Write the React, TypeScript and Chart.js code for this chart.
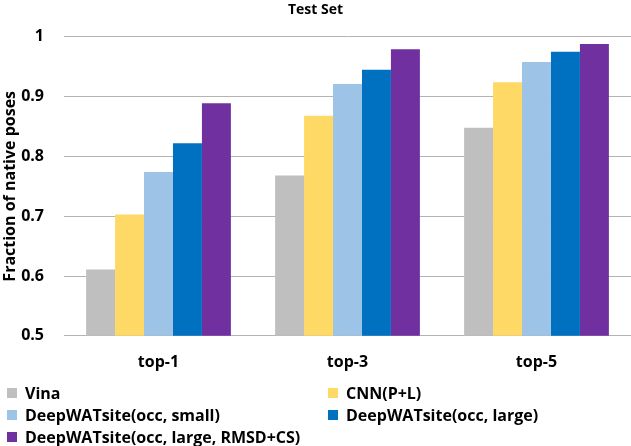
import React, { useEffect, useRef } from "react";
import { Chart, registerables } from "chart.js";

Chart.register(...registerables);

const chartTitle = "Test Set";
const yAxisTitle = "Fraction of native poses";
const categories = ["top-1", "top-3", "top-5"];
const seriesNames = [
  "Vina",
  "CNN(P+L)",
  "DeepWATsite(occ, small)",
  "DeepWATsite(occ, large)",
  "DeepWATsite(occ, large, RMSD+CS)",
];
const vina = [0.611, 0.768, 0.848];
const cnnPL = [0.703, 0.868, 0.924];
const deepSmall = [0.774, 0.921, 0.958];
const deepLarge = [0.822, 0.945, 0.975];
const deepRmsdCs = [0.889, 0.979, 0.988];
const seriesValues = [vina, cnnPL, deepSmall, deepLarge, deepRmsdCs];
const seriesColors = ["#BFBFBF", "#FFD966", "#9DC3E6", "#0070C0", "#7030A0"];
const yMin = 0.5;
const yMax = 1;
const yStep = 0.1;

const FONT = "'Open Sans', Lato, sans-serif";

export default function App() {
  const canvasRef = useRef<HTMLCanvasElement>(null);

  useEffect(() => {
    document.body.style.margin = "0";
    const canvas = canvasRef.current;
    if (!canvas) return;
    const chart = new Chart(canvas, {
      type: "bar",
      data: {
        labels: categories,
        datasets: seriesNames.map((name, i) => ({
          label: name,
          data: seriesValues[i],
          backgroundColor: seriesColors[i],
          borderWidth: 0,
          barPercentage: 1,
          categoryPercentage: 0.766,
        })),
      },
      options: {
        responsive: false,
        animation: false,
        devicePixelRatio: 1,
        layout: { padding: { left: 0, right: 0, top: 0, bottom: 57 } },
        plugins: {
          legend: { display: false },
          tooltip: { enabled: false },
          title: {
            display: true,
            text: chartTitle,
            color: "#000",
            font: { family: FONT, size: 14, weight: "bold" },
            padding: { top: 2, bottom: 18 },
          },
        },
        scales: {
          x: {
            grid: { display: false, drawTicks: false },
            border: { display: false },
            ticks: {
              color: "#000",
              font: { family: FONT, size: 16, weight: "bold" },
              padding: 17,
              maxRotation: 0,
            },
          },
          y: {
            min: yMin,
            max: yMax,
            grid: { color: "#B4B4B4", lineWidth: 1, drawTicks: false },
            border: { display: false },
            afterFit: (axis: any) => {
              axis.width = 64;
            },
            ticks: {
              stepSize: yStep,
              color: "#000",
              font: { family: FONT, size: 16, weight: "bold" },
              padding: 20,
              callback: (v: any) => String(Number(Number(v).toFixed(1))),
            },
            title: {
              display: true,
              text: yAxisTitle,
              color: "#000",
              font: { family: FONT, size: 16, weight: "bold" },
              padding: { top: 1, bottom: 1 },
            },
          },
        },
      },
    });
    return () => chart.destroy();
  }, []);

  return (
    <div style={{ position: "relative", width: 631, height: 446, fontFamily: FONT }}>
      <canvas ref={canvasRef} width={631} height={446} style={{ display: "block" }} />
      <div
        style={{
          position: "absolute",
          left: 7,
          top: 382,
          display: "grid",
          gridTemplateColumns: "321px auto",
          gridAutoRows: "22px",
          fontWeight: "bold",
          fontSize: 16,
          color: "#000",
        }}
      >
        {seriesNames.map((name, i) => (
          <div key={name} style={{ display: "flex", alignItems: "center", whiteSpace: "nowrap" }}>
            <span
              style={{
                display: "inline-block",
                width: 10,
                height: 10,
                background: seriesColors[i],
                marginRight: 8,
              }}
            />
            <span>{name}</span>
          </div>
        ))}
      </div>
    </div>
  );
}
